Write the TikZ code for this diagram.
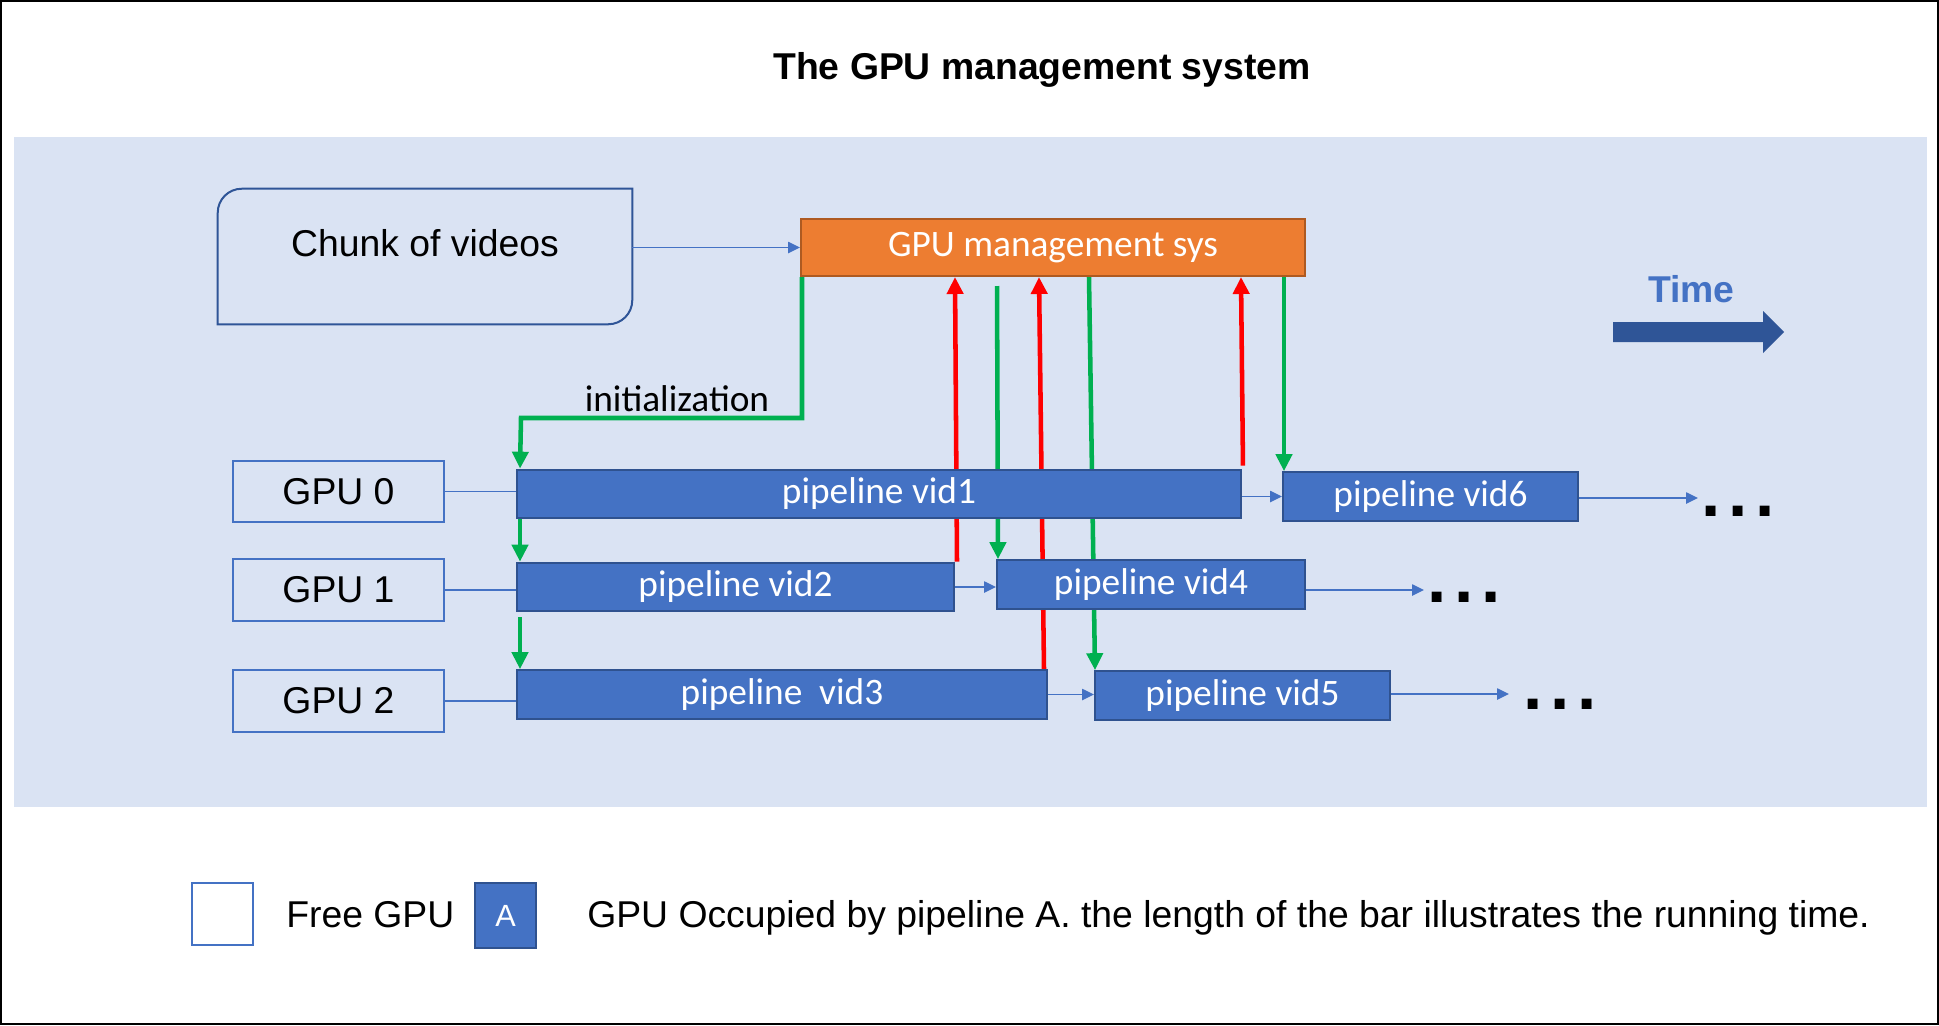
\documentclass[tikz,border=0pt]{standalone}
\usepackage{fontspec}
\setmainfont{Liberation Sans}
\newfontfamily\calibri{Carlito}
\usetikzlibrary{arrows.meta}

\definecolor{panelblue}{RGB}{218,227,243}
\definecolor{barblue}{RGB}{68,114,196}
\definecolor{baredge}{RGB}{47,82,143}
\definecolor{timeblue}{RGB}{47,85,151}
\definecolor{mgmtorange}{RGB}{237,125,49}
\definecolor{mgmtedge}{RGB}{174,90,33}
\definecolor{initgreen}{RGB}{0,176,80}

\pgfdeclarelayer{back}
\pgfdeclarelayer{mid}
\pgfsetlayers{back,mid,main}

\tikzset{every picture/.style={line width=0.75pt}}
\tikzset{
  gpubox/.style={draw=barblue, line width=1.5pt, minimum width=158.25pt, minimum height=46pt, inner sep=0pt, font=\fontsize{28}{34}\selectfont},
  pipebar/.style={draw=baredge, fill=barblue, line width=1.5pt, minimum height=36.5pt, inner sep=0pt, text=white, font=\calibri\fontsize{28}{34}\selectfont},
  gpuline/.style={draw=barblue, line width=1.1pt},
  flowarr/.style={draw=barblue, line width=1.1pt, -{Triangle[length=9pt,width=8.5pt]}},
  greenarr/.style={draw=initgreen, line width=3.4pt, -{Triangle[length=12.75pt,width=12pt]}},
  redarr/.style={draw=red, line width=3.4pt, -{Triangle[length=12.75pt,width=12pt]}},
  moredots/.style={inner sep=0pt, anchor=base west, font=\fontsize{52}{52}\selectfont\bfseries},
  plaintext/.style={inner sep=0pt, font=\fontsize{28}{34}\selectfont},
}

\begin{document}
\begin{tikzpicture}[x=0.75pt,y=0.75pt,yscale=-1,xscale=1]
\useasboundingbox (0,0) rectangle (1939,1025);

%Shape: Frame
\draw [line width=1.5pt] (1,1) rectangle (1938,1024);
%Shape: Panel
\begin{pgfonlayer}{back}
\fill [panelblue] (14,137) rectangle (1927,807);
\end{pgfonlayer}

% Text Node
\node [plaintext, anchor=base, font=\fontsize{28}{34}\selectfont\bfseries] (title) at (1042,79) {The GPU management system};

%Shape: Chunk of videos
\node [minimum width=310.5pt, minimum height=101.25pt, inner sep=0pt] (chunk) at (425,256.5) {};
\draw [timeblue, line width=1.5pt] (chunk.north) -- (chunk.north east) [rounded corners=18pt] -- (chunk.south east) [sharp corners] -- (chunk.south west) [rounded corners=18pt] -- (chunk.north west) [sharp corners] -- (chunk.north);
\node [plaintext, anchor=base] (chunklbl) at (425,256) {Chunk of videos};

%Shape: GPU management sys
\node [draw=mgmtedge, fill=mgmtorange, line width=1.5pt, minimum width=378pt, minimum height=42.75pt, inner sep=0pt, text=white, font=\calibri\fontsize{28}{34}\selectfont] (mgmt) at (1053,247.5) {GPU management sys};
\draw [flowarr] (chunk.east |- mgmt.west) -- (mgmt.west);

% Text Node
\node [plaintext, anchor=base, text=barblue, font=\fontsize{28}{34}\selectfont\bfseries] (timelbl) at (1691.5,302) {Time};
%Shape: Time arrow
\fill [timeblue] (1613,322) -- (1763,322) -- (1763,311) -- (1784,332) -- (1763,353) -- (1763,342) -- (1613,342) -- cycle;

%Shape: GPUs
\node [gpubox] (gpu0) at (338.5,491.5) {GPU 0};
\node [gpubox] (gpu1) at (338.5,590) {GPU 1};
\node [gpubox] (gpu2) at (338.5,701) {GPU 2};

%Shape: Pipelines
\node [pipebar, minimum width=543pt] (vid1) at (879,494) {pipeline vid1};
\node [pipebar, minimum width=327.75pt] (vid2) at (735.5,587) {pipeline vid2};
\node [pipebar, minimum width=397.5pt] (vid3) at (782,694.5) {pipeline~ vid3};
\node [pipebar, minimum width=231pt] (vid4) at (1151,584.5) {pipeline vid4};
\node [pipebar, minimum width=221.25pt] (vid5) at (1242.5,695.5) {pipeline vid5};
\node [pipebar, minimum width=221.25pt] (vid6) at (1430.5,496.5) {pipeline vid6};

\draw [gpuline] (gpu0.east) -- (gpu0.east -| vid1.west);
\draw [gpuline] (gpu1.east) -- (gpu1.east -| vid2.west);
\draw [gpuline] (gpu2.east) -- (gpu2.east -| vid3.west);

\draw [flowarr] (vid1.east |- vid6.west) -- (vid6.west);
\draw [flowarr] (vid2.east) -- (vid2.east -| vid4.west);
\draw [flowarr] (vid3.east) -- (vid3.east -| vid5.west);

%Shape: what comes next
\coordinate (next0) at (1698,498);
\coordinate (next1) at (1424,590);
\coordinate (next2) at (1509,694);
\draw [flowarr] (vid6.east |- next0) -- (next0);
\draw [flowarr] (vid4.east |- next1) -- (next1);
\draw [flowarr] (vid5.east |- next2) -- (next2);
\node [moredots] (dots0) at (1701,516) {.\kern6pt.\kern6pt.};
\node [moredots] (dots1) at (1427,602) {.\kern6pt.\kern6pt.};
\node [moredots] (dots2) at (1523,709) {.\kern6pt.\kern6pt.};

% Text Node
\node [plaintext, anchor=base, font=\calibri\fontsize{28}{34}\selectfont] (initlbl) at (677,411) {initialization};
\coordinate (initbend) at (521,418);

%Shape: schedule arrows
\begin{pgfonlayer}{mid}
\draw [greenarr] ([xshift=1.5pt]mgmt.south west) |- (initbend) -- ([xshift=3pt]vid1.north west);
\draw [greenarr] ([xshift=3pt]vid1.south west) -- ([xshift=3pt]vid2.north west);
\draw [greenarr, shorten <=3.75pt] ([xshift=3pt]vid2.south west) -- ([xshift=3pt]vid3.north west);
\draw [greenarr, shorten <=6.75pt] ([xshift=147.75pt]mgmt.south west) -- ([xshift=1.5pt]vid4.north west);
\draw [greenarr] ([xshift=216.75pt]mgmt.south west) -- ([xshift=0.75pt]vid5.north west);
\draw [greenarr] ([xshift=363pt]mgmt.south west) -- ([xshift=1.5pt]vid6.north west);
\draw [redarr] ([xshift=1.5pt]vid2.north east) -- ([xshift=116.25pt]mgmt.south west);
\draw [redarr] ([xshift=-3pt]vid3.north east) -- ([xshift=179.25pt]mgmt.south west);
\draw [redarr, shorten <=2.25pt] ([xshift=0.75pt]vid1.north east) -- ([xshift=330.75pt]mgmt.south west);
\end{pgfonlayer}

%Shape: Legend
\node [draw=barblue, fill=white, line width=1.5pt, minimum width=45.75pt, minimum height=46.5pt, inner sep=0pt] (freebox) at (222.5,914) {};
\node [plaintext, anchor=base west] (freelbl) at (286,927) {Free GPU};
\node [draw=baredge, fill=barblue, line width=1.5pt, minimum width=45.75pt, minimum height=48.75pt, inner sep=0pt, text=white, font=\fontsize{23}{28}\selectfont] (abox) at (505.5,915.5) {A};
\node [plaintext, anchor=base west] (occlbl) at (587,927) {GPU Occupied by pipeline A. the length of the bar illustrates the running time.};

\end{tikzpicture}
\end{document}
